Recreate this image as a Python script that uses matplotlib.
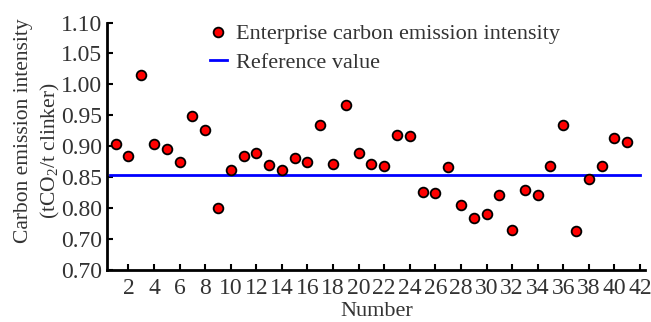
import matplotlib.pyplot as plt

plt.rcParams['font.family'] = ['Liberation Serif', 'DejaVu Serif']
plt.rcParams['mathtext.fontset'] = 'custom'
plt.rcParams['mathtext.rm'] = 'Liberation Serif'

# dados
numero = list(range(1, 42))
intensidade = [0.903, 0.884, 1.016, 0.904, 0.895, 0.874, 0.949, 0.927, 0.801, 0.861,
               0.885, 0.890, 0.870, 0.861, 0.881, 0.875, 0.934, 0.871, 0.967, 0.889,
               0.872, 0.868, 0.918, 0.916, 0.827, 0.824, 0.867, 0.806, 0.785, 0.790,
               0.822, 0.765, 0.829, 0.821, 0.868, 0.935, 0.764, 0.848, 0.868, 0.913,
               0.907]
valor_ref = 0.853
y_ticks = [0.70, 0.75, 0.80, 0.85, 0.90, 0.95, 1.00, 1.05, 1.10]
y_labels = ['0.70', '0.70', '0.80', '0.85', '0.90', '0.95', '1.00', '1.05', '1.10']
x_ticks = list(range(2, 43, 2))

cor_texto = '#333333'
tam = 16

fig = plt.figure(figsize=(6.51, 3.22), dpi=100)
ax = fig.add_axes([0.165, 0.161, 0.826, 0.769])

ax.plot(numero, intensidade, 'o', color='red', markeredgecolor='black',
        markersize=7, markeredgewidth=1.3, label='Enterprise carbon emission intensity', zorder=3)
ax.axhline(valor_ref, color='#0000ff', linewidth=2, label='Reference value', zorder=2,
           xmin=0.005, xmax=0.99)

ax.set_xlim(0.36, 42.4)
ax.set_ylim(0.70, 1.10)
ax.set_yticks(y_ticks)
ax.set_yticklabels(y_labels)
ax.set_xticks(x_ticks)

for s in ['top', 'right']:
    ax.spines[s].set_visible(False)
for s in ['left', 'bottom']:
    ax.spines[s].set_linewidth(2)

ax.tick_params(direction='in', length=4, width=1.5, labelsize=17, labelcolor=cor_texto, pad=4)
ax.tick_params(axis='x', pad=6)

ax.set_xlabel('Number', fontsize=tam, color=cor_texto, labelpad=2)

# rótulo do eixo y em duas linhas, como no original
fig.text(24 / 651, 1 - 131 / 322, 'Carbon emission intensity', rotation=90, fontsize=15.5,
         color=cor_texto, ha='center', va='center')
fig.text(50 / 651, 1 - 151 / 322, '(tCO$_2$/t clinker)', rotation=90, fontsize=15.5,
         color=cor_texto, ha='center', va='center')

leg = ax.legend(loc='upper left', bbox_to_anchor=(0.19, 0.995), frameon=False, fontsize=tam,
                handlelength=0.8, handletextpad=0.4, labelspacing=0.35, borderaxespad=0,
                borderpad=0)
for t in leg.get_texts():
    t.set_color(cor_texto)

fig.savefig('out.png', dpi=100)
